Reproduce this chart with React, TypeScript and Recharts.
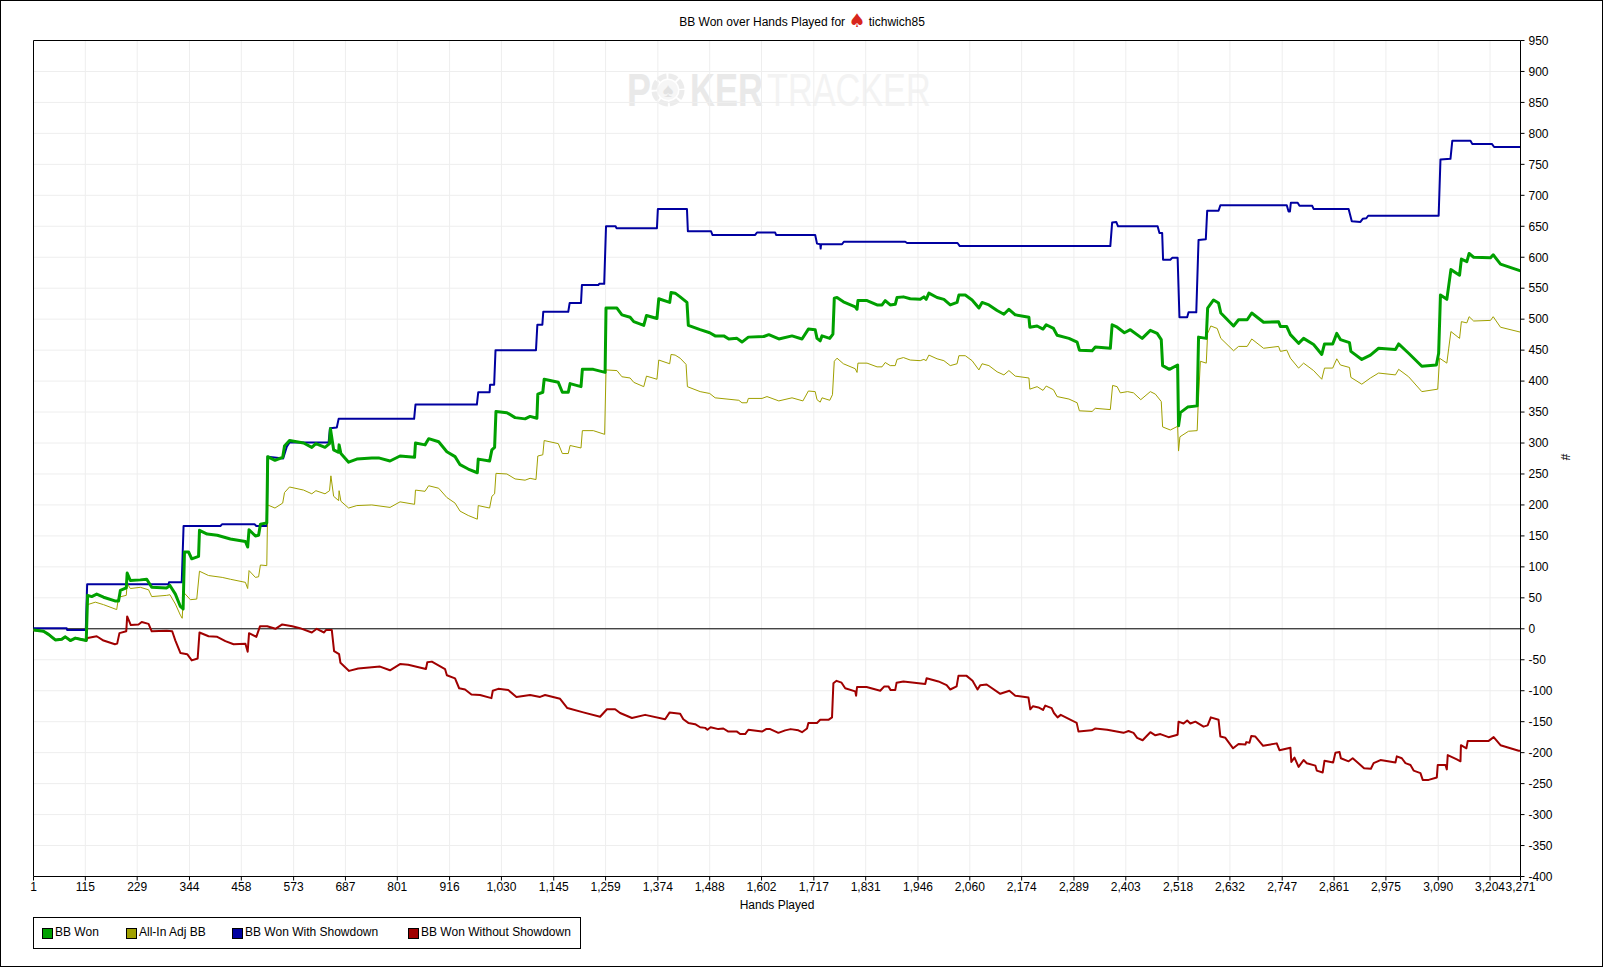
import { LineChart, Line, XAxis, YAxis, CartesianGrid, ReferenceLine } from 'recharts';

type Pair = [number, number];

const handTicks = [1, 115, 229, 344, 458, 573, 687, 801, 916, 1030, 1145, 1259, 1374, 1488, 1602, 1717, 1831, 1946, 2060, 2174, 2289, 2403, 2518, 2632, 2747, 2861, 2975, 3090, 3204, 3271];
const bbTicks = [950, 900, 850, 800, 750, 700, 650, 600, 550, 500, 450, 400, 350, 300, 250, 200, 150, 100, 50, 0, -50, -100, -150, -200, -250, -300, -350, -400];

const withShowdown: Pair[] = [
  [1, 1], [74, 1], [75, -2], [116, -2], [119, 72], [298, 72], [299, 75], [327, 75], [331, 166], [412, 166], [416, 169], [487, 169], [491, 166], [514, 166], [516, 278],
  [550, 275], [558, 294], [564, 301], [650, 301], [653, 324], [668, 325], [672, 339], [838, 339], [841, 362], [976, 362], [979, 382], [1004, 382], [1005, 394], [1014, 394], [1017, 450],
  [1106, 450], [1109, 491], [1120, 491], [1122, 512], [1177, 512], [1180, 526], [1205, 526], [1207, 555], [1243, 555], [1245, 557], [1256, 557], [1260, 650], [1281, 650], [1283, 647], [1372, 647],
  [1374, 678], [1438, 678], [1440, 642], [1491, 642], [1494, 636], [1588, 636], [1592, 640], [1632, 640], [1634, 636], [1720, 636], [1724, 622], [1731, 621], [1732, 614], [1733, 621], [1779, 621],
  [1783, 625], [1918, 625], [1922, 623], [2033, 623], [2038, 618], [2369, 618], [2373, 656], [2382, 657], [2386, 650], [2473, 650], [2477, 639], [2483, 639], [2485, 596], [2501, 596], [2505, 599],
  [2517, 599], [2521, 503], [2538, 503], [2541, 511], [2558, 511], [2563, 628], [2579, 629], [2582, 675], [2607, 675], [2611, 684], [2757, 684], [2761, 674], [2764, 674], [2766, 688], [2781, 688],
  [2785, 683], [2813, 683], [2816, 678], [2893, 678], [2900, 658], [2919, 657], [2924, 662], [2932, 663], [2936, 667], [3091, 667], [3095, 758], [3117, 759], [3121, 788], [3161, 788], [3165, 783],
  [3208, 783], [3213, 778], [3271, 778],
];

const bbWon: Pair[] = [
  [1, -2], [23, -4], [34, -9], [49, -18], [63, -17], [71, -13], [82, -19], [93, -15], [104, -17], [117, -19], [120, 54], [129, 52], [140, 56], [155, 51], [180, 45], [188, 45], [192, 62], [205, 66],
  [207, 90], [214, 78], [236, 79], [250, 80], [261, 67], [294, 66], [301, 70], [313, 56], [324, 36], [330, 32], [333, 124], [342, 124], [349, 113], [364, 117], [366, 159], [383, 153], [405, 151],
  [434, 145], [467, 141], [472, 132], [475, 160], [489, 150], [496, 151], [500, 169], [514, 171], [516, 278], [532, 272], [549, 277], [553, 295], [564, 304], [595, 300], [613, 293], [622, 299],
  [642, 293], [652, 299], [654, 323], [661, 289], [672, 285], [673, 297], [677, 283], [694, 269], [712, 274], [745, 276], [760, 276], [785, 271], [807, 279], [839, 277], [841, 300], [862, 297],
  [870, 307], [892, 302], [910, 286], [928, 278], [939, 265], [957, 258], [977, 252], [979, 274], [1004, 271], [1009, 289], [1015, 293], [1018, 351], [1042, 349], [1060, 341], [1082, 339],
  [1093, 343], [1108, 340], [1110, 379], [1121, 382], [1124, 403], [1155, 398], [1164, 382], [1177, 382], [1181, 396], [1205, 391], [1208, 419], [1232, 419], [1258, 414], [1260, 518], [1284, 518],
  [1295, 507], [1313, 503], [1321, 496], [1343, 490], [1349, 506], [1372, 501], [1376, 533], [1400, 527], [1403, 543], [1412, 542], [1423, 536], [1438, 527], [1441, 490], [1467, 483], [1488, 478],
  [1500, 473], [1519, 473], [1530, 468], [1548, 469], [1559, 463], [1573, 471], [1607, 472], [1618, 475], [1640, 468], [1669, 473], [1691, 468], [1705, 484], [1720, 483], [1724, 469], [1731, 465],
  [1735, 473], [1752, 469], [1759, 476], [1762, 534], [1768, 535], [1782, 528], [1808, 520], [1812, 516], [1814, 530], [1834, 530], [1856, 523], [1867, 523], [1874, 530], [1885, 523], [1896, 524],
  [1900, 535], [1914, 536], [1929, 533], [1951, 532], [1959, 536], [1964, 532], [1970, 542], [1988, 535], [2003, 532], [2017, 523], [2032, 527], [2036, 539], [2050, 539], [2065, 531], [2080, 518],
  [2087, 527], [2102, 523], [2120, 514], [2135, 508], [2146, 516], [2160, 507], [2190, 503], [2192, 487], [2208, 489], [2221, 484], [2228, 491], [2244, 485], [2252, 474], [2278, 469], [2296, 463],
  [2301, 450], [2329, 449], [2336, 455], [2369, 453], [2373, 491], [2384, 487], [2400, 478], [2413, 483], [2439, 469], [2457, 482], [2472, 477], [2481, 467], [2484, 425], [2499, 419], [2517, 426],
  [2519, 328], [2523, 349], [2539, 358], [2560, 360], [2563, 471], [2580, 469], [2583, 518], [2596, 531], [2607, 526], [2612, 510], [2640, 489], [2651, 499], [2670, 499], [2680, 510], [2706, 495],
  [2739, 496], [2743, 488], [2757, 488], [2765, 475], [2783, 461], [2794, 469], [2816, 459], [2834, 443], [2840, 460], [2858, 460], [2867, 477], [2875, 467], [2895, 462], [2898, 448], [2922, 435],
  [2941, 442], [2959, 453], [2996, 451], [3003, 460], [3025, 445], [3054, 424], [3086, 426], [3091, 445], [3095, 539], [3109, 532], [3118, 580], [3137, 571], [3141, 597], [3153, 593], [3158, 606],
  [3168, 600], [3205, 599], [3211, 604], [3227, 589], [3271, 578],
];

const allInAdj: Pair[] = [
  [1, -2], [23, -4], [34, -9], [49, -18], [63, -17], [71, -13], [82, -19], [93, -15], [104, -17], [117, -19], [120, 39], [137, 43], [155, 39], [184, 31], [188, 51], [205, 54], [207, 73], [214, 65],
  [236, 67], [254, 63], [261, 52], [294, 54], [301, 55], [313, 40], [324, 22], [328, 17], [331, 59], [346, 47], [360, 48], [366, 93], [386, 86], [416, 83], [434, 80], [467, 75], [472, 65], [475, 94],
  [489, 83], [496, 84], [500, 103], [514, 102], [516, 200], [532, 195], [549, 203], [553, 220], [564, 229], [595, 224], [613, 218], [622, 223], [642, 218], [652, 223], [655, 247], [661, 214],
  [672, 207], [673, 223], [677, 206], [694, 195], [712, 199], [745, 200], [785, 196], [807, 205], [839, 201], [841, 224], [862, 222], [870, 231], [892, 227], [910, 212], [928, 203], [939, 190],
  [957, 183], [977, 177], [979, 199], [1004, 195], [1009, 214], [1015, 218], [1018, 251], [1042, 250], [1060, 242], [1082, 240], [1093, 243], [1106, 241], [1110, 279], [1121, 281], [1124, 304],
  [1155, 299], [1164, 283], [1177, 283], [1181, 296], [1205, 292], [1208, 320], [1232, 320], [1257, 314], [1260, 418], [1284, 417], [1295, 407], [1313, 405], [1321, 398], [1343, 391], [1349, 408],
  [1372, 403], [1376, 434], [1400, 428], [1403, 443], [1412, 442], [1423, 437], [1436, 427], [1439, 391], [1467, 383], [1488, 380], [1500, 373], [1526, 371], [1552, 369], [1559, 365], [1570, 365],
  [1573, 372], [1603, 372], [1614, 375], [1640, 368], [1669, 373], [1693, 368], [1705, 384], [1720, 383], [1724, 370], [1731, 366], [1735, 373], [1752, 369], [1758, 378], [1762, 432], [1768, 437],
  [1782, 428], [1808, 420], [1812, 414], [1814, 429], [1834, 429], [1856, 423], [1867, 423], [1874, 430], [1885, 425], [1896, 425], [1900, 435], [1914, 438], [1929, 434], [1951, 433], [1959, 435],
  [1964, 433], [1970, 442], [1988, 436], [2003, 433], [2017, 425], [2032, 428], [2036, 441], [2050, 441], [2065, 433], [2080, 418], [2087, 428], [2102, 425], [2120, 415], [2135, 410], [2146, 417],
  [2160, 408], [2190, 405], [2192, 387], [2208, 391], [2221, 385], [2228, 392], [2244, 386], [2252, 375], [2278, 371], [2296, 365], [2301, 352], [2329, 351], [2336, 356], [2369, 354], [2374, 393],
  [2384, 391], [2391, 381], [2407, 383], [2420, 381], [2436, 370], [2457, 383], [2468, 379], [2481, 367], [2484, 326], [2501, 321], [2517, 327], [2519, 287], [2522, 310], [2541, 319], [2560, 320],
  [2562, 359], [2567, 432], [2580, 429], [2583, 477], [2590, 489], [2604, 485], [2612, 469], [2640, 449], [2651, 456], [2670, 456], [2680, 468], [2706, 453], [2739, 456], [2743, 448], [2757, 450],
  [2765, 437], [2783, 421], [2794, 429], [2816, 417], [2834, 403], [2840, 421], [2858, 421], [2867, 436], [2875, 426], [2895, 422], [2898, 406], [2922, 395], [2941, 405], [2959, 413], [2996, 410],
  [3003, 419], [3025, 407], [3054, 383], [3089, 387], [3093, 437], [3109, 429], [3113, 452], [3118, 480], [3137, 469], [3141, 496], [3153, 494], [3158, 504], [3168, 497], [3205, 498], [3211, 504],
  [3227, 487], [3271, 479],
];

const withoutShowdown: Pair[] = [
  [1, -2], [23, -4], [34, -9], [49, -18], [63, -17], [71, -13], [82, -19], [93, -15], [104, -17], [117, -19], [120, -15], [140, -12], [155, -19], [180, -25], [185, -24], [190, -7], [205, -4], [207, 20],
  [215, 6], [232, 7], [239, 11], [254, 8], [261, -4], [294, -3], [306, -4], [313, -19], [324, -39], [339, -41], [349, -51], [362, -48], [366, -6], [386, -12], [405, -13], [423, -20], [441, -25],
  [467, -24], [472, -37], [475, -7], [491, -13], [499, 4], [515, 4], [533, 0], [548, 7], [570, 4], [587, 1], [613, -6], [624, 0], [640, -6], [644, -2], [657, -2], [662, -36], [673, -41], [676, -55],
  [695, -68], [715, -64], [763, -61], [785, -67], [807, -57], [825, -58], [864, -65], [867, -54], [877, -53], [906, -65], [910, -75], [928, -80], [937, -96], [950, -98], [964, -106], [983, -107],
  [1008, -112], [1011, -100], [1023, -97], [1045, -99], [1063, -110], [1093, -107], [1115, -110], [1126, -107], [1159, -113], [1175, -128], [1210, -135], [1247, -142], [1262, -130], [1280, -130],
  [1291, -136], [1317, -144], [1346, -139], [1390, -146], [1400, -135], [1423, -137], [1430, -146], [1441, -152], [1456, -154], [1467, -159], [1478, -160], [1483, -163], [1490, -159], [1507, -162],
  [1518, -161], [1529, -166], [1548, -166], [1555, -170], [1566, -170], [1573, -163], [1603, -166], [1612, -162], [1621, -162], [1639, -168], [1654, -164], [1666, -162], [1683, -164], [1691, -167],
  [1702, -161], [1705, -152], [1724, -152], [1731, -147], [1749, -147], [1757, -143], [1760, -88], [1767, -84], [1778, -87], [1786, -96], [1808, -101], [1810, -108], [1812, -94], [1833, -94],
  [1863, -100], [1872, -93], [1881, -93], [1886, -99], [1896, -99], [1899, -87], [1914, -85], [1962, -89], [1965, -80], [1991, -85], [2009, -91], [2017, -98], [2031, -93], [2035, -76], [2053, -76],
  [2066, -84], [2077, -98], [2083, -91], [2097, -90], [2127, -105], [2147, -100], [2160, -108], [2189, -111], [2193, -130], [2199, -125], [2211, -127], [2221, -131], [2226, -124], [2240, -128],
  [2245, -136], [2253, -143], [2260, -139], [2295, -152], [2299, -166], [2328, -164], [2336, -161], [2362, -163], [2398, -168], [2409, -165], [2420, -168], [2428, -176], [2440, -180], [2457, -167],
  [2468, -172], [2479, -170], [2497, -175], [2517, -171], [2519, -150], [2530, -153], [2538, -148], [2545, -153], [2556, -150], [2574, -158], [2583, -156], [2590, -143], [2607, -147], [2611, -174],
  [2622, -176], [2639, -193], [2651, -186], [2666, -187], [2668, -183], [2675, -184], [2679, -173], [2688, -174], [2705, -189], [2735, -185], [2741, -196], [2765, -192], [2767, -215], [2774, -208],
  [2783, -223], [2794, -212], [2801, -217], [2820, -221], [2823, -229], [2836, -232], [2840, -213], [2859, -216], [2864, -200], [2873, -199], [2876, -209], [2893, -214], [2902, -209], [2927, -225],
  [2942, -226], [2948, -217], [2963, -212], [2996, -216], [2999, -206], [3010, -209], [3018, -217], [3029, -220], [3036, -229], [3051, -233], [3056, -244], [3069, -244], [3087, -240], [3089, -220],
  [3106, -220], [3109, -227], [3111, -204], [3131, -211], [3139, -214], [3140, -188], [3152, -193], [3155, -181], [3201, -181], [3212, -175], [3227, -188], [3267, -197], [3271, -197],
];

const toRows = (pairs: Pair[]) => pairs.map(([hand, bb]) => ({ hand, bb }));

const FONT = '"Liberation Sans", Arial, sans-serif';

const legendItems = [
  { name: 'BB Won', color: '#00a000', swatchLeft: 42 },
  { name: 'All-In Adj BB', color: '#a0a000', swatchLeft: 126 },
  { name: 'BB Won With Showdown', color: '#0000a0', swatchLeft: 232 },
  { name: 'BB Won Without Showdown', color: '#a00000', swatchLeft: 408 },
];

function Watermark() {
  return (
    <svg width={330} height={50} style={{ position: 'absolute', left: 618, top: 65 }}>
      <g fontFamily={FONT} fontSize={46}>
        <text transform="translate(9,41) scale(0.78,1)" fontWeight="bold" fill="#e9e9e9">P</text>
        <circle cx={50} cy={25} r={14} fill="none" stroke="#ececec" strokeWidth={5} strokeDasharray="9 2" />
        <circle cx={50} cy={25} r={10} fill="#f6f6f6" />
        <text x={50} y={32} fontSize={20} textAnchor="middle" fill="#e2e2e2">♠</text>
        <text transform="translate(72,41) scale(0.75,1)" fontWeight="bold" fill="#e9e9e9">KER</text>
        <text transform="translate(149,41) scale(0.745,1)" fill="#f3f3f3">TRACKER</text>
      </g>
    </svg>
  );
}

function ChartLegend() {
  return (
    <div style={{ position: 'absolute', left: 33, top: 917, width: 548, height: 32, boxSizing: 'border-box', border: '1px solid #000', background: '#fff' }}>
      {legendItems.map((item) => (
        <div key={item.name}>
          <div style={{ position: 'absolute', left: item.swatchLeft - 34, top: 10, width: 9, height: 9, background: item.color, border: '1px solid #000' }} />
          <span style={{ position: 'absolute', left: item.swatchLeft - 21, top: 7, fontSize: 12, lineHeight: '15px', whiteSpace: 'nowrap', color: '#000' }}>{item.name}</span>
        </div>
      ))}
    </div>
  );
}

export default function App() {
  return (
    <div style={{ position: 'absolute', left: 0, top: 0, width: 1604, height: 967, background: '#fff', fontFamily: FONT, overflow: 'hidden' }}>
      <div style={{ position: 'absolute', left: 0, top: 0, width: 1603, height: 967, boxSizing: 'border-box', border: '1px solid #000' }} />
      <Watermark />
      <div style={{ position: 'absolute', left: 0, top: 14, width: 1604, textAlign: 'center', fontSize: 12, lineHeight: '15px', color: '#000', whiteSpace: 'nowrap' }}>
        BB Won over Hands Played for <span style={{ color: '#d8261c', fontSize: 19, fontFamily: '"DejaVu Sans"', lineHeight: '12px', verticalAlign: '-1px' }}>♠</span> tichwich85
      </div>
      <LineChart
        width={1604}
        height={967}
        margin={{ top: 40.5, left: 33.5, right: 0, bottom: 0 }}
        style={{ position: 'absolute', left: 0, top: 0 }}
      >
        <CartesianGrid stroke="#eeeeee" strokeWidth={1} />
        <XAxis
          dataKey="hand"
          type="number"
          domain={[1, 3271]}
          ticks={handTicks}
          interval={0}
          height={90.5}
          tickSize={4}
          tickMargin={2}
          tick={{ fontSize: 12, fill: '#000', fontFamily: FONT }}
          tickFormatter={(v: number) => v.toLocaleString('en-US')}
          axisLine={{ stroke: '#000' }}
          tickLine={{ stroke: '#000' }}
          label={{ value: 'Hands Played', position: 'insideTop', offset: 24, fontSize: 12, fill: '#000', fontFamily: FONT }}
        />
        <YAxis
          orientation="right"
          type="number"
          domain={[-400, 950]}
          ticks={bbTicks}
          interval={0}
          width={83.5}
          tickSize={4}
          tickMargin={4}
          tick={{ fontSize: 12, fill: '#000', fontFamily: FONT }}
          axisLine={{ stroke: '#000' }}
          tickLine={{ stroke: '#000' }}
          label={{ value: '#', angle: 90, position: 'insideRight', offset: 39, dy: 2, fontSize: 12, fill: '#000', fontFamily: FONT }}
        />
        <ReferenceLine x={1} stroke="#000" />
        <ReferenceLine y={950} stroke="#000" />
        <ReferenceLine y={0} stroke="#000" />
        <Line data={toRows(withoutShowdown)} dataKey="bb" name="BB Won Without Showdown" type="linear" stroke="#a00000" strokeWidth={2} strokeLinejoin="round" dot={false} activeDot={false} isAnimationActive={false} />
        <Line data={toRows(withShowdown)} dataKey="bb" name="BB Won With Showdown" type="linear" stroke="#0000a0" strokeWidth={2} strokeLinejoin="round" dot={false} activeDot={false} isAnimationActive={false} />
        <Line data={toRows(allInAdj)} dataKey="bb" name="All-In Adj BB" type="linear" stroke="#a0a000" strokeWidth={1} strokeLinejoin="round" dot={false} activeDot={false} isAnimationActive={false} />
        <Line data={toRows(bbWon)} dataKey="bb" name="BB Won" type="linear" stroke="#00a000" strokeWidth={3} strokeLinejoin="round" dot={false} activeDot={false} isAnimationActive={false} />
      </LineChart>
      <ChartLegend />
    </div>
  );
}
